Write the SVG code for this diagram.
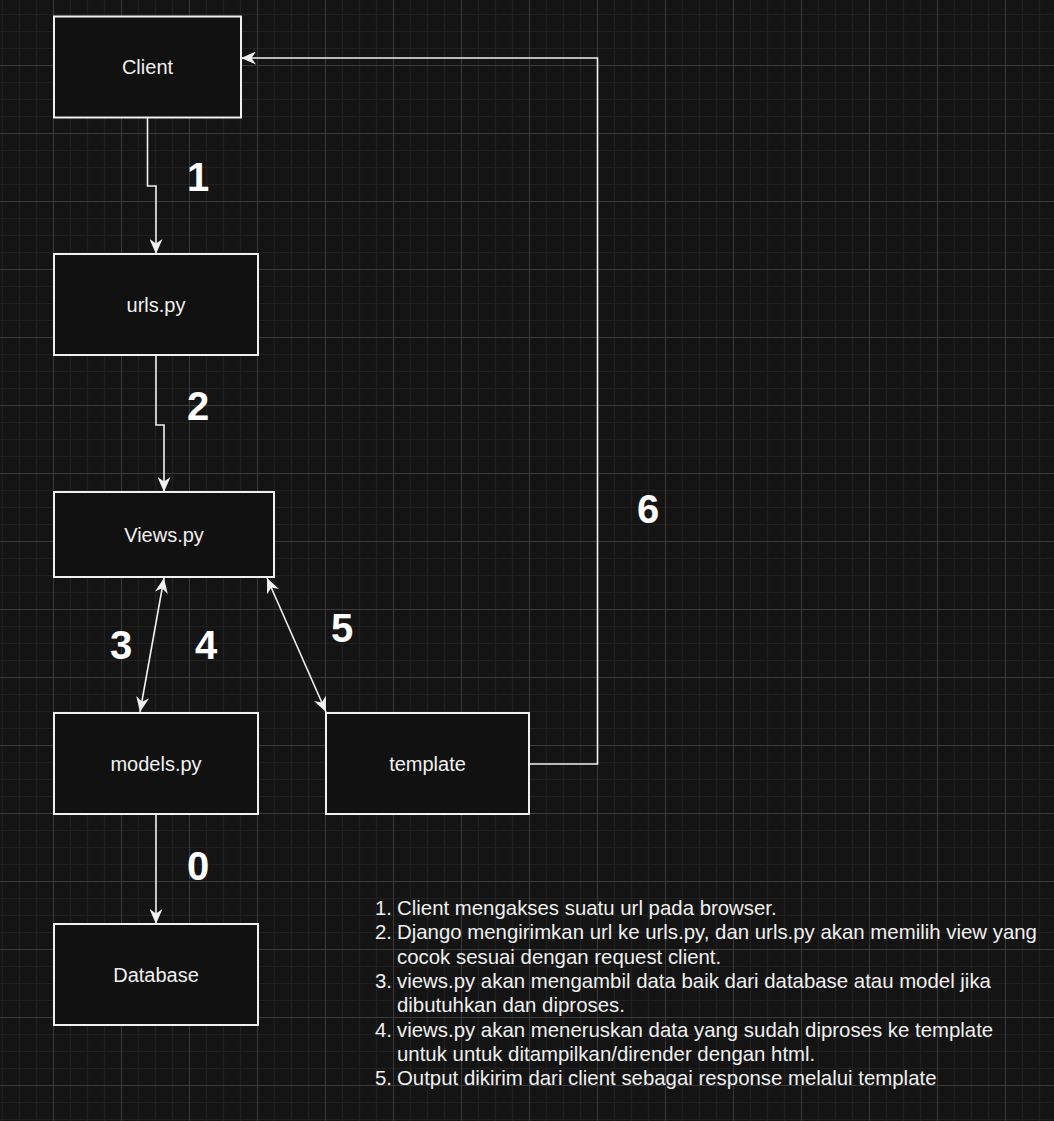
<svg xmlns="http://www.w3.org/2000/svg" width="1054" height="1121" viewBox="0 0 1054 1121">
<style>
.node rect{fill:#111111;stroke:#f0f0f0;stroke-width:2}
.lbl{font-family:"Liberation Sans",Arial,sans-serif;font-size:20px;fill:#f0f0f0;text-anchor:middle}
.num{font-family:"Liberation Sans",Arial,sans-serif;font-size:40px;font-weight:bold;fill:#ffffff;text-anchor:middle}
.edge{fill:none;stroke:#f0f0f0;stroke-width:1.6}
.list{font-family:"Liberation Sans",Arial,sans-serif;font-size:20.4px;fill:#f0f0f0}
.mk{text-anchor:end}
</style>
<defs>
<pattern id="grid" patternUnits="userSpaceOnUse" x="53" y="65" width="68" height="68">
<path d="M17.5,0V68M34.5,0V68M51.5,0V68M0,17.5H68M0,34.5H68M0,51.5H68" stroke="#202020" stroke-width="1.2" fill="none"/>
<path d="M0.5,0V68M0,0.5H68" stroke="#3a3a3a" stroke-width="1" fill="none"/>
</pattern>
<marker id="arr" markerUnits="userSpaceOnUse" viewBox="0 0 15 13" refX="15" refY="6.5" markerWidth="15" markerHeight="13" orient="auto-start-reverse">
<path d="M0,0 L15,6.5 L0,13 L4.5,6.5 Z" fill="#f0f0f0"/>
</marker>
</defs>
<rect x="0" y="0" width="1054" height="1121" fill="#141414"/>
<rect x="0" y="0" width="1054" height="1121" fill="url(#grid)"/>

<g id="connectors">
<path class="edge" d="M147.5,117 V186 H156 V254" marker-end="url(#arr)"/>
<path class="edge" d="M156,355 V425 H164 V492" marker-end="url(#arr)"/>
<path class="edge" d="M164,578 L140,712" marker-start="url(#arr)" marker-end="url(#arr)"/>
<path class="edge" d="M267,578 L326,712" marker-start="url(#arr)" marker-end="url(#arr)"/>
<path class="edge" d="M529,764 H597.5 V58 H241" marker-end="url(#arr)"/>
<path class="edge" d="M156,814 V924" marker-end="url(#arr)"/>
</g>

<g id="client" class="node"><rect x="54" y="16.5" width="187" height="101"/><text class="lbl" x="147.5" y="74">Client</text></g>
<g id="urls" class="node"><rect x="54" y="254" width="204" height="101"/><text class="lbl" x="156" y="312">urls.py</text></g>
<g id="views" class="node"><rect x="54" y="492" width="220" height="85"/><text class="lbl" x="164" y="542">Views.py</text></g>
<g id="models" class="node"><rect x="54" y="713" width="204" height="101"/><text class="lbl" x="156" y="771">models.py</text></g>
<g id="template" class="node"><rect x="326" y="713" width="203" height="101"/><text class="lbl" x="427.5" y="771">template</text></g>
<g id="database" class="node"><rect x="54" y="924" width="204" height="101"/><text class="lbl" x="156" y="982">Database</text></g>

<g id="labels">
<text class="num" x="198" y="191">1</text>
<text class="num" x="198" y="420">2</text>
<text class="num" x="121" y="659">3</text>
<text class="num" x="206" y="659">4</text>
<text class="num" x="342" y="642">5</text>
<text class="num" x="648" y="523">6</text>
<text class="num" x="198" y="880">0</text>
</g>

<g id="notes" class="list">
<text class="mk" x="392" y="915">1.</text><text x="397" y="915">Client mengakses suatu url pada browser.</text>
<text class="mk" x="392" y="939.3">2.</text><text x="397" y="939.3">Django mengirimkan url ke urls.py, dan urls.py akan memilih view yang</text>
<text x="397" y="963.6">cocok sesuai dengan request client.</text>
<text class="mk" x="392" y="987.9">3.</text><text x="397" y="987.9">views.py akan mengambil data baik dari database atau model jika</text>
<text x="397" y="1012.2">dibutuhkan dan diproses.</text>
<text class="mk" x="392" y="1036.5">4.</text><text x="397" y="1036.5">views.py akan meneruskan data yang sudah diproses ke template</text>
<text x="397" y="1060.8">untuk untuk ditampilkan/dirender dengan html.</text>
<text class="mk" x="392" y="1085.1">5.</text><text x="397" y="1085.1">Output dikirim dari client sebagai response melalui template</text>
</g>
</svg>
